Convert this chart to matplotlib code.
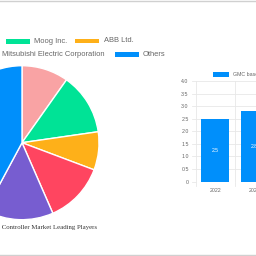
import matplotlib
matplotlib.use("Agg")
import matplotlib.pyplot as plt
from matplotlib.patches import Rectangle
from matplotlib.lines import Line2D

# ---- data ----
pie_shares = [9.8, 12.9, 8.0, 12.7, 14.4, 42.1]
pie_colors = ["#F9A3A4", "#00E396", "#FEB019", "#FF4560", "#775DD0", "#008FFB"]
legend_row1 = ["Moog Inc.", "ABB Ltd."]
legend_row1_colors = ["#00E396", "#FEB019"]
legend_row2 = ["Mitsubishi Electric Corporation", "Others"]
legend_row2_colors = ["#775DD0", "#008FFB"]
pie_title = "Motion Controller Market Leading Players"

years = ["2022", "2023"]
values = [2.5, 2.8]
value_labels = ["2.5", "2.8"]
bar_legend = "GMC base year"
yticks = [0, 0.5, 1.0, 1.5, 2.0, 2.5, 3.0, 3.5, 4.0]
ytick_labels = ["0", "0.5", "1.0", "1.5", "2.0", "2.5", "3.0", "3.5", "4.0"]

W = H = 256
fig = plt.figure(figsize=(2.56, 2.56), dpi=100)
fig.patch.set_facecolor("white")

def fx(px):
    return px / W

def fy(py):
    return 1 - py / H

def axes_px(x0, y0, x1, y1):
    return fig.add_axes([fx(x0), fy(y1), (x1 - x0) / W, (y1 - y0) / H])

# ---- pie ----
cx, cy, r = 22, 142.7, 77
pax = axes_px(cx - r, cy - r, cx + r, cy + r)
pax.pie(pie_shares, colors=pie_colors, startangle=90, counterclock=False,
        radius=1, wedgeprops=dict(edgecolor="white", linewidth=1.0))
pax.set_xlim(-1, 1)
pax.set_ylim(-1, 1)
pax.set_aspect("auto")
pax.axis("off")

# ---- pie legend (manual) ----
gray = "#666666"
fs_leg = 5.4

def leg_item(bx0, bx1, by0, by1, color, text, tx):
    fig.patches.append(Rectangle((fx(bx0), fy(by1)), (bx1 - bx0) / W, (by1 - by0) / H,
                                 transform=fig.transFigure, facecolor=color,
                                 edgecolor="none"))
    fig.text(fx(tx), fy((by0 + by1) / 2), text, fontsize=fs_leg, color=gray,
             family="Liberation Sans", va="center", ha="left")

leg_item(6, 30, 38.8, 43.5, legend_row1_colors[0], legend_row1[0], 34.5)
leg_item(75, 99, 38.5, 43.3, legend_row1_colors[1], legend_row1[1], 103.5)
leg_item(-33, -9, 51.7, 56.7, legend_row2_colors[0], legend_row2[0], 2)
leg_item(114.5, 138.5, 51.7, 56.7, legend_row2_colors[1], legend_row2[1], 142.7)

# pie title (serif)
fig.text(fx(96.5), fy(227.5), pie_title, fontsize=4.85, color="#333333",
         family="Liberation Serif", ha="right", va="center")

# ---- bar chart ----
cat_w = 39.3
bx0, by_top, by_bot = 195.7, 81.0, 181.5
bax = axes_px(bx0, by_top, bx0 + cat_w * len(years), by_bot)
xs = list(range(len(years)))
bars = bax.bar(xs, values, width=0.72, color="#008FFB", zorder=3)
for x, v, lab in zip(xs, values, value_labels):
    bax.text(x, v / 2, lab, color="white", fontsize=3.6, ha="center",
             va="center", family="Liberation Sans", zorder=4)
bax.set_xlim(-0.5, len(years) - 0.5)
bax.set_ylim(0, 4)
bax.set_yticks(yticks)
bax.set_yticklabels(ytick_labels)
bax.set_xticks(xs)
bax.set_xticklabels(years)
grid_c = "#E8E8E8"
for yv in yticks:
    bax.axhline(yv, color=grid_c, lw=0.6, zorder=1)
for xb in [i - 0.5 for i in range(len(years) + 1)]:
    bax.axvline(xb, color=grid_c, lw=0.6, zorder=1)
# tick marks extending outside (chart.js style)
for yv in yticks:
    bax.add_line(Line2D([-0.5 - 4 / cat_w, -0.5], [yv, yv], color=grid_c, lw=0.6,
                        clip_on=False))
for xb in [i - 0.5 for i in range(len(years) + 1)]:
    bax.add_line(Line2D([xb, xb], [0, -4 * 4 / 100.5], color=grid_c, lw=0.6,
                        clip_on=False))
bax.tick_params(length=0, labelsize=3.8, labelcolor=gray, pad=5)
for lab in bax.get_xticklabels() + bax.get_yticklabels():
    lab.set_family("Liberation Sans")
for s in bax.spines.values():
    s.set_visible(False)
bax.set_facecolor("none")

# bar legend
fig.patches.append(Rectangle((fx(213.3), fy(76.7)), 16 / W, 5 / H,
                             transform=fig.transFigure, facecolor="#008FFB",
                             edgecolor="none"))
fig.text(fx(233.3), fy(74.2), bar_legend, fontsize=3.8, color=gray,
         family="Liberation Sans", ha="left", va="center")

# page borders
fig.add_artist(Line2D([0, 1], [fy(0.5), fy(0.5)], transform=fig.transFigure,
                      color="#D0D0D0", lw=1.0))
fig.add_artist(Line2D([0, 1], [fy(254.8), fy(254.8)], transform=fig.transFigure,
                      color="#D0D0D0", lw=1.0))

fig.savefig("out.png", dpi=100, facecolor="white")
